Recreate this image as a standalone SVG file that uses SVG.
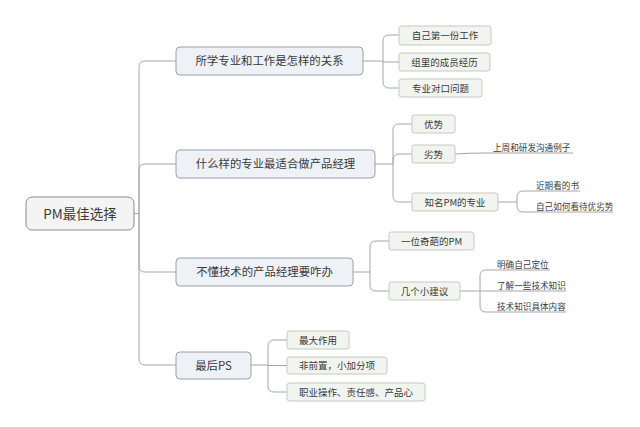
<svg xmlns="http://www.w3.org/2000/svg" width="640" height="427" viewBox="0 0 640 427">
<style>
text{font-family:"Noto Sans CJK SC","Noto Sans",sans-serif;fill:#3a3a3a}
.root rect{fill:#f4f4f4;stroke:#8c8c8c;stroke-width:1}
.l1 rect{fill:#eef1f6;stroke:#9ba0a8;stroke-width:1}
.l2 rect{fill:#f1f4ef;stroke:#c3cac0;stroke-width:1}
.root text{font-size:13.5px}
.l1 text{font-size:11.4px}
.l2 text{font-size:9.5px}
.fl text{font-size:8.6px}
#connectors path{fill:none;stroke:#a6a6a6;stroke-width:1}
.ul{fill:none;stroke:#9a9a9a;stroke-width:1}
</style>
<rect width="640" height="427" fill="#ffffff"/>
<g id="connectors">
<path d="M134,213.5 H139"/>
<path d="M139,213 V67 Q139,61 145,61 H176"/>
<path d="M139,213 V170 Q139,164 145,164 H176"/>
<path d="M139,213 V266 Q139,272 145,272 H176"/>
<path d="M139,213 V359 Q139,365 145,365 H176"/>
<path d="M363,61 H383"/>
<path d="M383,61 V41 Q383,35 389,35 H399"/>
<path d="M383,62 H399"/>
<path d="M383,61 V82 Q383,88 389,88 H399"/>
<path d="M375,164 H393"/>
<path d="M393,164 V130 Q393,124 399,124 H412"/>
<path d="M393,164 V160 Q393,154 399,154 H412"/>
<path d="M393,164 V196 Q393,202 399,202 H412"/>
<path d="M455,154 Q470,153 485,153 H573"/>
<path d="M498,202 H517"/>
<path d="M517,202 V197 Q517,191 523,191 H580"/>
<path d="M517,202 V206 Q517,212 523,212 H613"/>
<path d="M353,272 H370"/>
<path d="M370,272 V247 Q370,241 376,241 H389"/>
<path d="M370,272 V285 Q370,291 376,291 H389"/>
<path d="M460,291 H480 H566"/>
<path d="M480,291 V276 Q480,270 486,270 H550"/>
<path d="M480,291 V306 Q480,312 486,312 H566"/>
<path d="M251,365 H268"/>
<path d="M268,365 V346 Q268,340 274,340 H287"/>
<path d="M268,365.5 H287"/>
<path d="M268,365 V386 Q268,392 274,392 H287"/>
</g>
<g id="root" class="root"><rect x="26" y="197" width="108" height="33" rx="6"/><text x="80" y="218.5" text-anchor="middle">PM最佳选择</text></g>
<g id="n1" class="l1"><rect x="176" y="47" width="187" height="28" rx="4"/><text x="269.5" y="65" text-anchor="middle">所学专业和工作是怎样的关系</text></g>
<g id="n2" class="l1"><rect x="176" y="150" width="199" height="28" rx="4"/><text x="275.5" y="168" text-anchor="middle">什么样的专业最适合做产品经理</text></g>
<g id="n3" class="l1"><rect x="176" y="258" width="177" height="28" rx="4"/><text x="264.5" y="276" text-anchor="middle">不懂技术的产品经理要咋办</text></g>
<g id="n4" class="l1"><rect x="176" y="352" width="75" height="27" rx="4"/><text x="213.5" y="369.5" text-anchor="middle">最后PS</text></g>
<g id="n1a" class="l2"><rect x="399" y="26" width="92" height="19" rx="2.5"/><text x="445" y="39" text-anchor="middle">自己第一份工作</text></g>
<g id="n1b" class="l2"><rect x="399" y="53" width="91" height="18" rx="2.5"/><text x="444.5" y="65.5" text-anchor="middle">组里的成员经历</text></g>
<g id="n1c" class="l2"><rect x="399" y="79" width="83" height="18" rx="2.5"/><text x="440.5" y="91.5" text-anchor="middle">专业对口问题</text></g>
<g id="n2a" class="l2"><rect x="412" y="115" width="43" height="18" rx="2.5"/><text x="433.5" y="127.5" text-anchor="middle">优势</text></g>
<g id="n2b" class="l2"><rect x="412" y="145" width="43" height="18" rx="2.5"/><text x="433.5" y="157.5" text-anchor="middle">劣势</text></g>
<g id="n2c" class="l2"><rect x="412" y="193" width="86" height="18" rx="2.5"/><text x="455" y="205.5" text-anchor="middle">知名PM的专业</text></g>
<g id="n2b1" class="fl"><text x="493" y="150.5">上周和研发沟通例子</text></g>
<g id="n2c1" class="fl"><text x="536" y="188.5">近期看的书</text></g>
<g id="n2c2" class="fl"><text x="536" y="209.5">自己如何看待优劣势</text></g>
<g id="n3a" class="l2"><rect x="389" y="232" width="85" height="18" rx="2.5"/><text x="431.5" y="244.5" text-anchor="middle">一位奇葩的PM</text></g>
<g id="n3b" class="l2"><rect x="389" y="282" width="71" height="18" rx="2.5"/><text x="424.5" y="294.5" text-anchor="middle">几个小建议</text></g>
<g id="n3b1" class="fl"><text x="497" y="267.5">明确自己定位</text></g>
<g id="n3b2" class="fl"><text x="497" y="288.5">了解一些技术知识</text></g>
<g id="n3b3" class="fl"><text x="497" y="309.5">技术知识具体内容</text></g>
<g id="n4a" class="l2"><rect x="287" y="331" width="62" height="18" rx="2.5"/><text x="318" y="343.5" text-anchor="middle">最大作用</text></g>
<g id="n4b" class="l2"><rect x="287" y="357" width="100" height="17" rx="2.5"/><text x="337" y="369" text-anchor="middle">非前置，小加分项</text></g>
<g id="n4c" class="l2"><rect x="287" y="383" width="138" height="18" rx="2.5"/><text x="356" y="395.5" text-anchor="middle">职业操作、责任感、产品心</text></g>
</svg>
